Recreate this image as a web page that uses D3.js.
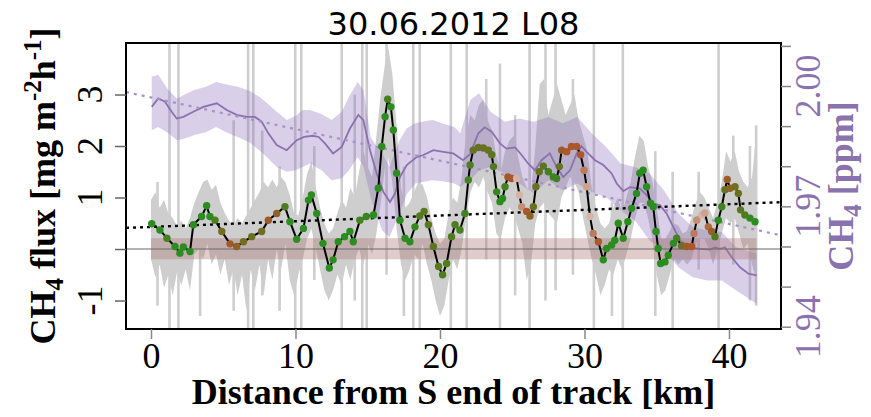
<!DOCTYPE html>
<html>
<head>
<meta charset="utf-8">
<script src="https://cdn.jsdelivr.net/npm/d3@7"></script>
<style>
  body { margin: 0; background: #fff; }
  text { font-family: "Liberation Serif", serif; }
</style>
</head>
<body>
<svg id="chart" width="871" height="417"></svg>
<script>
(function() {
  // flux along track: [km, flux, shade] (shade: 0 green .. 1 brown .. 1.5 pale)
  var fluxPts = [
    [0.05,0.49,0],[0.62,0.37,0],[1.1,0.21,0.2],[1.66,0.05,0],[2.0,-0.08,0],[2.24,0.04,0],
    [2.7,-0.05,0],[2.93,0.47,0],[3.5,0.63,0],[3.85,0.84,0],[4.08,0.63,0],[4.43,0.56,0.3],
    [4.9,0.34,0.6],[5.47,0.10,0.9],[5.93,0.05,0.8],[6.4,0.14,0.6],[6.97,0.24,0.5],[7.66,0.34,0.6],
    [8.12,0.56,0.9],[8.7,0.69,0.8],[9.27,0.82,0.3],[9.62,0.53,0],[10.08,0.19,0],[10.55,0.40,0],
    [10.9,0.95,0],[11.1,1.05,0],[11.47,0.69,0],[11.9,0.11,0],[12.34,-0.37,0],[12.6,-0.21,0],
    [12.96,0.14,0],[13.4,0.24,0],[13.77,0.34,0],[14.0,0.14,0],[14.46,0.56,0.2],[14.9,0.63,0.1],
    [15.4,0.66,0],[15.73,1.18,0],[15.97,1.99,0],[16.2,2.57,0],[16.38,2.91,0.2],[16.6,2.76,0],
    [16.77,2.31,0],[17.0,1.47,0],[17.23,0.56,0],[17.58,0.21,0],[17.92,0.14,0],[18.27,0.43,0.1],
    [18.6,0.64,0.3],[18.9,0.73,0.4],[19.2,0.47,0.4],[19.54,0.05,0.4],[19.9,-0.34,0.4],[20.18,-0.5,0.3],
    [20.46,-0.28,0.3],[20.8,0.24,0.3],[21.04,0.47,0.3],[21.38,0.37,0.2],[21.73,0.69,0.2],[21.96,1.34,0.2],
    [22.08,1.63,0.3],[22.3,1.92,0.5],[22.65,1.97,0.5],[23.0,1.96,0.5],[23.34,1.92,0.5],[23.58,1.83,0.4],
    [23.7,1.6,0.3],[23.92,1.11,0.1],[24.15,0.92,0],[24.33,0.98,0],[24.5,1.21,0.2],[24.7,1.40,0.9],
    [24.95,1.37,1.0],[25.3,1.37,1.5],[25.5,1.05,1.5],[25.65,0.82,1.3],[26.0,0.73,1.0],[26.23,0.64,0.8],
    [26.46,0.82,0.5],[26.64,1.21,0.5],[26.87,1.50,0.5],[27.15,1.61,0.4],[27.5,1.50,0.2],[27.84,1.40,0.1],
    [28.07,1.37,0.2],[28.26,1.60,0.5],[28.42,1.92,0.9],[28.77,1.89,1.0],[29.1,1.99,1.0],[29.46,1.99,1.0],
    [29.73,1.83,1.0],[29.97,1.53,1.2],[30.15,1.21,1.4],[30.38,0.63,1.5],[30.6,0.30,1.2],[30.96,0.14,1.0],
    [31.3,-0.21,0],[31.53,0.01,0],[31.88,0.08,0],[32.1,0.17,0],[32.34,0.50,0],[32.68,0.21,0],
    [33.0,0.53,0],[33.26,0.79,0],[33.6,1.08,0],[33.83,1.47,0],[34.06,1.53,0],[34.3,1.21,0],
    [34.57,0.89,0],[34.76,0.82,0],[34.95,0.34,0],[35.1,0.01,0],[35.27,-0.28,0],[35.57,-0.25,0],
    [35.8,-0.12,0],[36.15,0.11,0],[36.38,0.21,0.2],[36.73,0.06,0.5],[37.07,0.05,0.9],[37.42,0.05,1.0],
    [37.58,0.30,1.2],[37.77,0.56,1.3],[38.1,0.66,1.5],[38.33,0.70,1.4],[38.57,0.43,1.1],[38.8,0.34,0.9],
    [39.03,0.24,0.3],[39.26,0.56,0],[39.5,0.82,0.2],[39.72,1.15,0.5],[39.88,1.35,0.9],[40.07,1.18,0.8],
    [40.42,1.21,0.6],[40.65,1.08,0.5],[40.8,0.76,0.4],[41.1,0.66,0.3],[41.45,0.60,0.1],[41.8,0.53,0]
  ];

  // flux uncertainty envelope: [km, lo, hi]
  var fluxBand = [
    [0.0,-0.2,0.95],[0.3,-0.55,1.1],[0.6,-0.3,0.8],[0.9,-0.75,0.95],[1.2,-0.5,0.7],[1.5,-0.9,0.6],
    [1.8,-0.45,0.45],[2.1,-0.7,0.55],[2.4,-0.4,0.4],[2.7,-0.8,0.6],[3.0,-0.1,0.9],[3.3,0.0,1.1],
    [3.6,-0.2,1.3],[3.9,0.1,1.35],[4.2,-0.3,1.15],[4.5,-0.1,1.25],[4.8,-0.5,0.9],[5.1,-0.2,0.7],
    [5.4,-0.7,0.55],[5.7,-0.4,0.45],[6.0,-0.9,0.6],[6.3,-0.5,0.5],[6.6,-1.2,0.65],[6.9,-0.4,0.8],
    [7.2,-0.8,0.95],[7.5,-0.3,1.1],[7.8,-0.9,1.3],[8.1,-0.2,1.2],[8.4,-0.6,1.35],[8.7,0.0,1.2],
    [9.0,-0.4,1.4],[9.3,0.1,1.3],[9.6,-0.6,1.05],[9.9,-0.9,0.7],[10.2,-0.5,0.65],[10.5,-0.2,1.0],
    [10.8,0.2,1.45],[11.1,0.4,1.7],[11.4,0.0,1.2],[11.7,-0.4,0.8],[12.0,-0.8,0.5],[12.3,-1.0,0.3],
    [12.6,-0.8,0.4],[12.9,-0.5,0.7],[13.2,-0.7,0.95],[13.5,-0.3,0.8],[13.8,-0.6,1.2],[14.1,-0.2,1.0],
    [14.4,0.0,1.5],[14.7,-0.3,1.9],[15.0,0.1,1.6],[15.3,-0.1,1.4],[15.6,0.3,2.2],[15.9,0.9,3.0],
    [16.2,1.6,3.6],[16.4,1.8,3.95],[16.7,1.3,3.4],[17.0,0.4,2.4],[17.3,-0.3,1.2],[17.6,-0.6,0.8],
    [17.9,-0.4,0.9],[18.2,-0.1,1.1],[18.5,-0.2,1.3],[18.8,0.1,1.25],[19.1,-0.3,1.0],[19.4,-0.6,0.6],
    [19.7,-1.0,0.3],[20.0,-1.3,0.1],[20.3,-1.1,0.2],[20.6,-0.6,0.7],[20.9,-0.2,1.0],[21.2,-0.4,0.9],
    [21.5,0.0,1.4],[21.8,0.6,2.2],[22.1,1.1,2.6],[22.4,1.3,2.5],[22.7,1.2,2.8],[23.0,1.4,2.9],
    [23.3,1.1,2.5],[23.6,0.9,2.3],[23.9,0.3,1.8],[24.2,0.2,1.5],[24.5,0.6,1.9],[24.8,0.8,2.1],
    [25.1,0.7,2.2],[25.4,0.4,1.8],[25.7,0.1,1.4],[26.0,-0.6,1.2],[26.3,-0.3,1.1],[26.6,0.5,2.0],
    [26.9,0.8,3.2],[27.2,0.9,3.3],[27.5,0.7,2.6],[27.8,0.6,2.9],[28.1,0.5,3.2],[28.4,1.0,2.9],
    [28.7,1.2,2.6],[29.0,1.4,2.8],[29.3,1.3,3.0],[29.6,1.1,2.5],[29.9,0.6,2.2],[30.2,0.2,1.9],
    [30.5,-0.2,1.2],[30.8,-0.5,0.8],[31.1,-0.9,0.5],[31.4,-0.7,0.4],[31.7,-0.4,0.5],[32.0,-0.5,0.8],
    [32.3,-0.2,1.0],[32.6,-0.4,0.7],[32.9,-0.1,1.0],[33.2,0.2,1.3],[33.5,0.6,1.8],[33.8,0.9,2.2],
    [34.1,0.9,2.1],[34.4,0.6,1.6],[34.7,0.2,1.3],[35.0,-0.5,0.8],[35.3,-0.9,0.2],[35.6,-0.8,0.2],
    [35.9,-0.5,0.35],[36.2,-0.2,0.5],[36.5,-0.3,0.45],[36.8,-0.2,0.3],[37.1,-0.3,0.35],[37.4,-0.2,0.6],
    [37.7,0.1,0.9],[38.0,0.2,1.1],[38.3,0.2,1.0],[38.6,0.0,0.8],[38.9,-0.3,0.6],[39.2,0.0,0.9],
    [39.5,0.3,1.3],[39.8,0.6,1.9],[40.1,0.5,1.7],[40.4,0.6,1.9],[40.7,0.3,1.5],[41.0,0.0,1.3],
    [41.3,0.1,1.2],[41.6,-0.3,1.4],[41.9,-0.6,2.3]
  ];

  // single-sample uncertainty spikes: [km, lo, hi]
  var fluxSpikes = [
    [0.45,-1.1,1.3],[1.28,-1.6,4.1],[1.9,-1.6,4.1],[3.4,-1.3,1.0],[5.72,-1.2,2.5],[6.72,-1.6,4.1],
    [7.08,-1.6,4.1],[7.7,-0.9,2.3],[8.9,-1.2,1.6],[9.98,-1.6,4.1],[10.4,-1.6,4.1],[11.3,-0.6,2.0],
    [13.2,-1.6,4.1],[14.1,-1.0,3.0],[14.62,-1.6,4.1],[14.93,-1.6,4.1],[16.3,-0.5,4.1],[17.5,-1.3,1.6],
    [18.15,-1.6,4.1],[18.6,-1.6,4.1],[20.75,-1.6,4.1],[21.85,-1.6,4.1],[23.2,-0.2,3.3],[24.15,-1.6,3.6],
    [25.2,-0.9,2.6],[26.2,-1.6,4.1],[27.3,-1.0,4.1],[28.0,-0.8,4.1],[29.2,-0.5,3.3],[30.65,-1.6,4.1],
    [31.9,-1.3,0.9],[32.65,-1.6,4.1],[34.9,-1.3,1.9],[36.1,-1.6,1.5],[37.9,-0.4,1.5],[39.28,-1.6,4.1],
    [40.3,-0.3,2.2],[41.45,-1.0,2.0],[41.88,-1.1,2.4]
  ];

  // CH4 concentration [ppm]
  var ch4Line = [
    [0.05,1.9948],[0.5,1.9969],[0.97,1.9961],[1.43,1.9936],[1.78,1.9919],[2.24,1.9923],[2.93,1.9936],
    [3.62,1.9948],[4.55,1.9957],[5.24,1.9940],[5.93,1.9928],[6.62,1.9923],[7.2,1.9923],[7.66,1.9911],
    [8.12,1.9882],[8.7,1.9853],[9.39,1.9840],[10.08,1.9865],[10.6,1.9873],[11.2,1.9876],[11.6,1.9873],
    [12.04,1.9857],[12.6,1.9832],[13.2,1.9848],[13.77,1.9894],[14.35,1.9928],[14.7,1.9915],[15.16,1.9840],
    [15.62,1.9782],[16.08,1.9736],[16.54,1.9711],[16.89,1.9732],[17.23,1.9773],[17.7,1.9803],[18.39,1.9823],
    [18.85,1.9828],[19.54,1.9840],[20.23,1.9836],[20.92,1.9832],[21.6,1.9815],[22.08,1.9830],[22.65,1.9882],
    [23.1,1.9897],[23.58,1.9886],[24.15,1.9857],[24.6,1.9844],[25.2,1.9847],[25.65,1.9828],[26.1,1.9807],
    [26.57,1.9790],[27.03,1.9815],[27.6,1.9832],[28.07,1.9798],[28.53,1.9773],[29.0,1.9790],[29.46,1.9832],
    [29.8,1.9850],[30.15,1.9836],[30.73,1.9815],[31.3,1.9803],[31.88,1.9782],[32.23,1.9757],[32.69,1.9738],
    [33.15,1.9748],[33.84,1.9744],[34.3,1.9728],[34.76,1.9707],[35.22,1.9703],[35.69,1.9682],[36.15,1.9648],
    [36.61,1.9615],[37.3,1.9598],[38.0,1.9594],[38.7,1.9592],[39.03,1.9598],[39.38,1.9594],[39.72,1.9598],
    [40.19,1.9573],[40.76,1.9548],[41.35,1.9532],[41.92,1.9528]
  ];

  var ch4Band = [
    [0.05,1.9890,2.0023],[0.5,1.9898,2.0028],[1.2,1.9882,1.9990],[1.8,1.9865,1.9969],[2.4,1.9870,1.9980],
    [3.0,1.9878,1.9990],[3.8,1.9885,1.9998],[4.5,1.9898,2.0010],[5.2,1.9885,2.0004],[6.0,1.9873,1.9998],
    [6.8,1.9860,1.9988],[7.5,1.9840,1.9973],[8.1,1.9820,1.9955],[8.7,1.9798,1.9936],[9.4,1.9786,1.9915],
    [10.0,1.9790,1.9925],[10.5,1.9798,1.9940],[11.0,1.9807,1.9940],[11.8,1.9790,1.9930],[12.5,1.9765,1.9915],
    [13.2,1.9770,1.9935],[13.7,1.9790,1.9973],[14.3,1.9823,2.0010],[14.7,1.9800,1.9990],[15.2,1.9723,1.9873],
    [15.6,1.9680,1.9850],[16.0,1.9640,1.9832],[16.5,1.9623,1.9798],[17.2,1.9682,1.9865],[17.7,1.9730,1.9895],
    [18.3,1.9757,1.9907],[19.0,1.9762,1.9913],[19.5,1.9765,1.9915],[20.3,1.9762,1.9905],[21.0,1.9757,1.9898],
    [21.4,1.9748,1.9882],[22.1,1.9765,1.9965],[22.7,1.9790,1.9982],[23.5,1.9798,1.9936],[24.5,1.9782,1.9911],
    [25.5,1.9757,1.9919],[26.5,1.9732,1.9911],[27.5,1.9765,1.9923],[28.5,1.9740,1.9907],[29.5,1.9757,1.9923],
    [30.5,1.9736,1.9882],[31.5,1.9723,1.9848],[32.5,1.9690,1.9807],[33.5,1.9665,1.9798],[34.5,1.9615,1.9782],
    [35.5,1.9590,1.9740],[36.5,1.9548,1.9682],[37.5,1.9523,1.9648],[38.5,1.9515,1.9640],[39.5,1.9515,1.9636],
    [40.5,1.9490,1.9598],[41.92,1.9457,1.9582]
  ];

  var fluxFit = [0.429, 0.01103];      // intercept, slope per km
  var ch4Fit = [1.99714, -0.000788];
  var refBand = [0, 41.9, -0.2, 0.21]; // km from, km to, flux lo, flux hi
  var xTicks = [0, 10, 20, 30, 40];
  var fluxTicks = [-1, 0, 1, 2, 3];
  var fluxLabels = [-1, 1, 2, 3];
  var ch4Ticks = [1.94, 1.95, 1.96, 1.97, 1.98, 1.99, 2.00, 2.01];
  var ch4Labels = [1.94, 1.97, 2.00];

  var left = 126, right = 781, top = 43, bottom = 329;
  var purple = '#8a72ae';
  var svg = d3.select('#chart');

  var x = d3.scaleLinear().domain([-1.73, 43.6]).range([left, right]);
  var y = d3.scaleLinear().domain([-1.553, 4.0]).range([bottom, top]);
  var y2 = d3.scaleLinear().domain([1.93943, 2.01072]).range([bottom, top]);
  var shade = d3.scaleLinear().domain([0, 0.5, 1, 1.5])
    .range(['#2b8c1f', '#66721f', '#a9572b', '#d7b3a6']);

  svg.append('clipPath').attr('id', 'plotclip').append('rect')
    .attr('x', left).attr('y', top).attr('width', right - left).attr('height', bottom - top);
  var plot = svg.append('g').attr('clip-path', 'url(#plotclip)');

  // gray flux uncertainty
  plot.append('path').datum(fluxBand)
    .attr('fill', '#cecece')
    .attr('d', d3.area().x(function(d) { return x(d[0]); })
      .y0(function(d) { return y(d[1]); }).y1(function(d) { return y(d[2]); }));
  plot.selectAll('rect.spike').data(fluxSpikes).enter().append('rect')
    .attr('class', 'spike').attr('fill', '#cecece')
    .attr('x', function(d) { return x(d[0]) - 1.3; }).attr('width', 2.6)
    .attr('y', function(d) { return y(d[2]); })
    .attr('height', function(d) { return y(d[1]) - y(d[2]); });

  // CH4 band and line
  plot.append('path').datum(ch4Band)
    .attr('fill', 'rgba(140,110,185,0.33)')
    .attr('d', d3.area().x(function(d) { return x(d[0]); })
      .y0(function(d) { return y2(d[1]); }).y1(function(d) { return y2(d[2]); }));
  plot.append('path').datum(ch4Line)
    .attr('fill', 'none').attr('stroke', purple).attr('stroke-width', 1.8)
    .attr('d', d3.line().x(function(d) { return x(d[0]); }).y(function(d) { return y2(d[1]); }));

  // reference band around zero
  plot.append('rect')
    .attr('x', x(refBand[0])).attr('width', x(refBand[1]) - x(refBand[0]))
    .attr('y', y(refBand[3])).attr('height', y(refBand[2]) - y(refBand[3]))
    .attr('fill', 'rgba(175,120,120,0.38)');
  plot.append('line')
    .attr('x1', left).attr('x2', right).attr('y1', y(0)).attr('y2', y(0))
    .attr('stroke', '#6a6a6a').attr('stroke-width', 1.2);

  // linear fits
  var xd = x.domain();
  plot.append('line')
    .attr('x1', x(xd[0])).attr('x2', x(xd[1]))
    .attr('y1', y2(ch4Fit[0] + ch4Fit[1] * xd[0])).attr('y2', y2(ch4Fit[0] + ch4Fit[1] * xd[1]))
    .attr('stroke', '#a692c6').attr('stroke-width', 2.2).attr('stroke-dasharray', '3,5');
  plot.append('line')
    .attr('x1', x(xd[0])).attr('x2', x(xd[1]))
    .attr('y1', y(fluxFit[0] + fluxFit[1] * xd[0])).attr('y2', y(fluxFit[0] + fluxFit[1] * xd[1]))
    .attr('stroke', '#000').attr('stroke-width', 2.4).attr('stroke-dasharray', '3,4');

  // flux line and points
  plot.append('path').datum(fluxPts)
    .attr('fill', 'none').attr('stroke', '#000').attr('stroke-width', 2)
    .attr('d', d3.line().x(function(d) { return x(d[0]); }).y(function(d) { return y(d[1]); }));
  plot.selectAll('circle').data(fluxPts).enter().append('circle')
    .attr('cx', function(d) { return x(d[0]); })
    .attr('cy', function(d) { return y(d[1]); })
    .attr('r', 3.7)
    .attr('fill', function(d) { return shade(d[2]); });

  // frame
  svg.append('rect')
    .attr('x', left).attr('y', top).attr('width', right - left).attr('height', bottom - top)
    .attr('fill', 'none').attr('stroke', '#000').attr('stroke-width', 2);

  // axes
  var gx = svg.append('g').attr('transform', 'translate(0,' + bottom + ')')
    .call(d3.axisBottom(x).tickValues(xTicks).tickSize(10).tickPadding(3));
  gx.select('.domain').remove();
  gx.selectAll('line').attr('stroke', '#888').attr('stroke-width', 1.5);
  gx.selectAll('text').attr('font-size', 36).attr('font-family', 'Liberation Serif').attr('fill', '#000');

  var gy = svg.append('g').attr('transform', 'translate(' + left + ',0)')
    .call(d3.axisLeft(y).tickValues(fluxTicks).tickSize(11).tickFormat(''));
  gy.select('.domain').remove();
  gy.selectAll('line').attr('stroke', '#666').attr('stroke-width', 1.5);
  svg.selectAll('text.ylab').data(fluxLabels).enter().append('text')
    .attr('class', 'ylab')
    .attr('transform', function(d) { return 'translate(102,' + y(d) + ') rotate(-90)'; })
    .attr('text-anchor', 'middle').attr('font-size', 36)
    .text(function(d) { return d; });

  var gy2 = svg.append('g').attr('transform', 'translate(' + right + ',0)')
    .call(d3.axisRight(y2).tickValues(ch4Ticks).tickSize(10).tickFormat(''));
  gy2.select('.domain').remove();
  gy2.selectAll('line').attr('stroke', '#888').attr('stroke-width', 1.5);
  svg.selectAll('text.y2lab').data(ch4Labels).enter().append('text')
    .attr('class', 'y2lab')
    .attr('transform', function(d) { return 'translate(820,' + y2(d) + ') rotate(-90)'; })
    .attr('text-anchor', 'middle').attr('font-size', 36).attr('fill', purple)
    .text(function(d) { return d3.format('.2f')(d); });

  // titles
  svg.append('text').attr('x', (left + right) / 2).attr('y', 35)
    .attr('text-anchor', 'middle').attr('font-size', 32)
    .style('font-family', '"DejaVu Sans", sans-serif')
    .text('30.06.2012 L08');

  svg.append('text').attr('x', (left + right) / 2).attr('y', 404)
    .attr('text-anchor', 'middle').attr('font-size', 36).attr('font-weight', 'bold')
    .text('Distance from S end of track [km]');

  var yl = svg.append('text')
    .attr('transform', 'translate(55,' + (top + bottom) / 2 + ') rotate(-90)')
    .attr('text-anchor', 'middle').attr('font-size', 36).attr('font-weight', 'bold');
  yl.append('tspan').text('CH');
  yl.append('tspan').attr('font-size', 25).attr('dy', 8).text('4');
  yl.append('tspan').attr('dy', -8).text(' flux [mg m');
  yl.append('tspan').attr('font-size', 25).attr('dy', -14).text('-2');
  yl.append('tspan').attr('dy', 14).text('h');
  yl.append('tspan').attr('font-size', 25).attr('dy', -14).text('-1');
  yl.append('tspan').attr('dy', 14).text(']');

  var yr = svg.append('text')
    .attr('transform', 'translate(853,' + (top + bottom) / 2 + ') rotate(-90)')
    .attr('text-anchor', 'middle').attr('font-size', 36).attr('font-weight', 'bold')
    .attr('fill', purple);
  yr.append('tspan').text('CH');
  yr.append('tspan').attr('font-size', 25).attr('dy', 8).text('4');
  yr.append('tspan').attr('dy', -8).text(' [ppm]');
})();
</script>
</body>
</html>
